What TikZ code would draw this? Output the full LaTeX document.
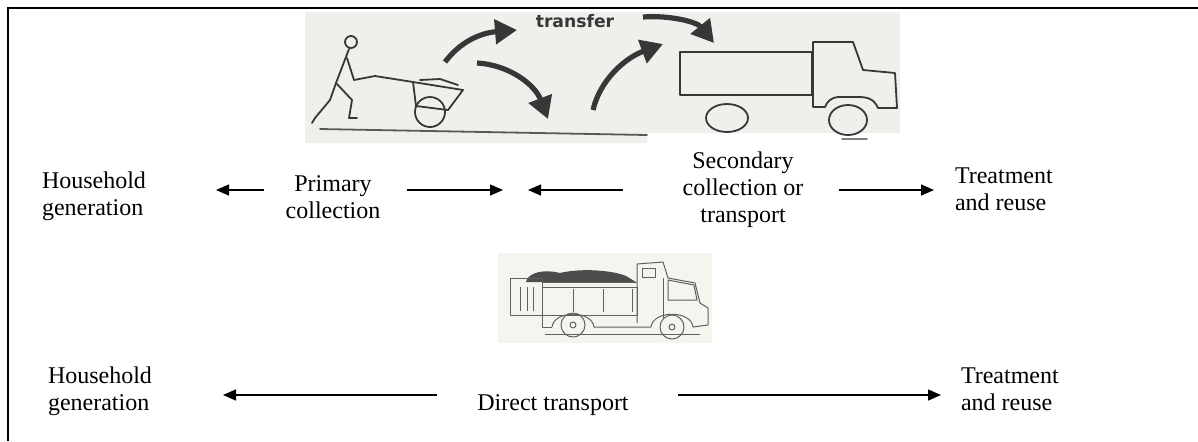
\documentclass[tikz,border=0pt]{standalone}
\usepackage{fontspec}
\setmainfont{Liberation Serif}
\newfontfamily\sketchfont{DejaVu Sans}
\usetikzlibrary{arrows.meta}
\definecolor{sketchbg}{RGB}{239,239,236}
\definecolor{lorrybg}{RGB}{246,244,239}
\definecolor{sketchink}{RGB}{55,55,55}
\tikzstyle{stage}=[inner sep=0, outer sep=0, font=\fontsize{12}{13.5}\selectfont]
\tikzstyle{flow}=[line width=0.7pt, -{Triangle[length=6.5pt, width=5.5pt]}]
\tikzstyle{pen}=[draw=sketchink, line width=0.9pt, line join=round, line cap=round]
\tikzstyle{bigarrow}=[draw=sketchink, line width=2.6pt, -{Triangle[length=11pt, width=12pt]}]
\tikzstyle{lorry}=[draw=gray!75!black, line width=0.5pt, line join=round]
\begin{document}
\begin{tikzpicture}[x=0.5pt, y=-0.5pt]
    \useasboundingbox (0,0) rectangle (1198,441);
    \draw[line width=1.2pt] (8,441) -- (8,8) -- (1198,8);

    % sketch: cart, transfer, truck
    \fill[sketchbg] (305,12) -- (900,12) -- (900,133) -- (647,133) -- (647,143) -- (305,143) -- cycle;
    \draw[pen, draw=gray!70!black] (320,129) -- (647,135);
    \draw[pen, draw=gray] (842,139) -- (867,139);
    % stick figure
    \draw[pen] (351,42) circle (6);
    \draw[pen] (349,49) -- (336,83);
    \draw[pen] (347,58) -- (354,80) -- (375,76) -- (413,82);
    \draw[pen] (336,83) -- (330,100) -- (315,118) -- (312,123);
    \draw[pen] (337,84) -- (352,100) -- (349,118) -- (357,118);
    % cart
    \draw[pen] (413,82) -- (463,90) -- (448,110) -- (416,106) -- cycle;
    \draw[pen] (420,80) -- (440,79) -- (458,85);
    \draw[pen] (430,112) circle (15);
    % transfer arrows
    \draw[bigarrow] (445,62) .. controls (460,42) and (480,33) .. (517,30);
    \draw[bigarrow] (477,63) .. controls (510,65) and (535,85) .. (548,119);
    \draw[bigarrow] (593,110) .. controls (600,80) and (625,58) .. (663,44);
    \draw[bigarrow] (643,17) .. controls (670,15) and (697,22) .. (714,43);
    \node[font=\sketchfont\bfseries\fontsize{8.6}{9}\selectfont, text=sketchink] (transfer) at (575,21) {transfer};
    % truck
    \draw[pen] (680,52) rectangle (812,95);
    \draw[pen] (813,107) -- (813,42) -- (853,42) -- (863,70) -- (895,73) -- (897,108) -- (878,108)
        .. controls (874,99) and (868,97) .. (858,97) -- (838,97) .. controls (830,98) and (827,102) .. (825,107) -- cycle;
    \draw[pen] (727,118) ellipse [x radius=21, y radius=14];
    \draw[pen] (848,120) ellipse [x radius=19, y radius=15];

    % sketch: tipper lorry
    \fill[lorrybg] (498,253) rectangle (712,343);
    \fill[gray!60!black] (526,282) .. controls (528,272) and (545,269) .. (560,273)
        .. controls (580,268) and (612,270) .. (626,276) -- (636,282) -- cycle;
    \draw[lorry] (510,278) rectangle (542,315);
    \foreach \sx in {520,527,533} \draw[lorry] (\sx,287) -- (\sx,311);
    \draw[lorry] (542,282) -- (637,282) (542,287) -- (637,287);
    \draw[lorry] (542,287) rectangle (637,315);
    \foreach \sx in {573,603,632} \draw[lorry] (\sx,289) -- (\sx,312);
    \draw[lorry] (637,323) -- (637,264) -- (663,262) -- (668,278) -- (695,283) -- (700,303) -- (708,308) -- (708,325);
    \draw[lorry] (642,268) rectangle (655,277);
    \draw[lorry] (668,280) -- (694,285) -- (697,300) -- (668,300) -- cycle;
    \draw[lorry] (663,278) -- (663,318);
    \draw[lorry] (552,327) .. controls (554,310) and (592,310) .. (594,327) -- (651,327)
        .. controls (653,310) and (691,310) .. (693,327) -- (708,325);
    \draw[lorry] (552,327) -- (542,327) -- (542,315);
    \draw[lorry] (573,325) circle (12) (573,325) circle (3);
    \draw[lorry] (672,327) circle (12) (672,327) circle (3);
    \draw[lorry] (545,334) -- (700,334);

    % upper chain
    \node[stage, align=left, anchor=west] (hhA) at (42,196) {Household\\generation};
    \node[stage, align=center] (primary) at (333,197) {Primary\\collection};
    \node[stage, align=center] (secondary) at (743,190) {Secondary\\collection or\\transport};
    \node[stage, align=left, anchor=west] (treatA) at (955,189) {Treatment\\and reuse};
    \coordinate (pL) at (264,190);
    \coordinate (hhAend) at (216,190);
    \coordinate (pR) at (407,190);
    \coordinate (midA) at (503,190);
    \coordinate (sL) at (623,190);
    \coordinate (midB) at (528,190);
    \coordinate (sR) at (839,190);
    \coordinate (treatAend) at (934,190);
    \draw[flow] (pL) -- (hhAend);
    \draw[flow] (pR) -- (midA);
    \draw[flow] (sL) -- (midB);
    \draw[flow] (sR) -- (treatAend);

    % lower chain
    \node[stage, align=left, anchor=west] (hhB) at (48,391) {Household\\generation};
    \node[stage, anchor=base] (direct) at (553,410) {Direct transport};
    \node[stage, align=left, anchor=west] (treatB) at (961,389) {Treatment\\and reuse};
    \coordinate (dL) at (437,395);
    \coordinate (hhBend) at (223,395);
    \coordinate (dR) at (678,395);
    \coordinate (treatBend) at (941,395);
    \draw[flow] (dL) -- (hhBend);
    \draw[flow] (dR) -- (treatBend);
\end{tikzpicture}
\end{document}
